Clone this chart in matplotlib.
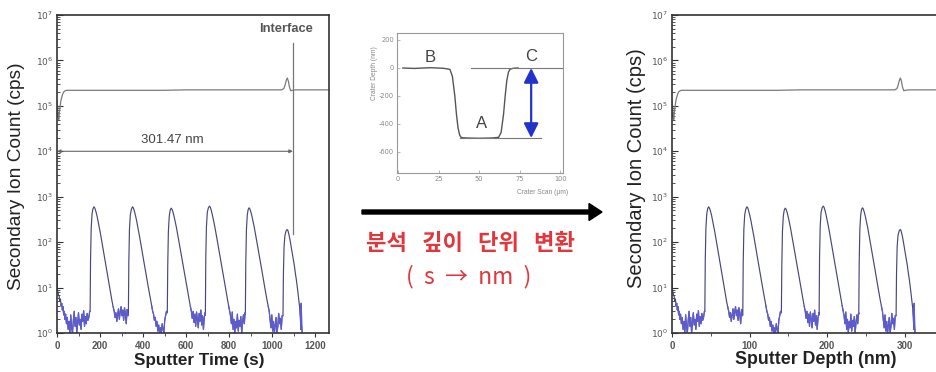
import numpy as np
import matplotlib
matplotlib.use("Agg")
import matplotlib.pyplot as plt
from matplotlib.patches import FancyArrow
from matplotlib.ticker import LogLocator, MultipleLocator, NullFormatter, FixedLocator, FixedFormatter

plt.rcParams["axes.unicode_minus"] = False

# ---------------- data ----------------
interface_time_s = 1097
interface_depth_nm = 301.47

# matrix (upper) signal, sputter time in s
upper_time = [0, 1.5, 3, 4.5, 6, 8, 10, 13, 16, 19, 23, 27, 32, 38, 45, 55, 100, 200, 300, 400, 500,
              600, 700, 800, 900, 1000, 1045, 1055, 1061, 1066, 1071, 1076, 1081, 1087, 1094, 1110,
              1200, 1265]
upper_counts = [1.3e5, 8.0e4, 1.0e5, 5.5e4, 7.0e4, 5.0e4, 6.5e4, 8.5e4, 1.1e5, 1.35e5, 1.6e5, 1.85e5,
                2.05e5, 2.15e5, 2.2e5, 2.2e5, 2.2e5, 2.2e5, 2.2e5, 2.2e5, 2.2e5, 2.25e5, 2.25e5,
                2.25e5, 2.25e5, 2.25e5, 2.25e5, 2.4e5, 2.9e5, 3.6e5, 4.1e5, 3.5e5, 2.6e5, 2.15e5,
                2.2e5, 2.25e5, 2.25e5, 2.25e5]

# delta-layer (lower) signal, split per layer
start_time = [0, 2, 4, 7, 10, 13, 16, 19, 22, 25, 28, 31, 34, 37, 40, 44, 48, 52, 56, 60, 64, 68,
              72, 76, 80, 84, 88, 92, 96, 100, 104, 108, 112, 116, 120, 124, 128, 132, 136, 140,
              144, 148, 152]
start_counts = [30, 9, 8, 7, 6.5, 5, 5.5, 4, 4.5, 3.2, 3.8, 2.5, 3, 2, 2.6, 1.6, 2.2, 1.2, 1.8, 1,
                2.5, 1.3, 1, 1.9, 3, 1.4, 2.2, 1, 1.7, 2.8, 1.5, 2, 1.2, 2.6, 1.8, 3.1, 1.4, 2.3,
                1.6, 2.7, 1.9, 2.2, 3]

layer1_time = [154, 156, 159, 163, 167, 172, 176, 181, 186, 191, 196, 201, 206, 211, 216, 221, 226,
               231, 236, 241, 246, 251, 256, 261, 266, 270, 274, 278, 282, 286, 290, 294, 298, 302,
               306, 310, 314, 318, 322, 326, 330]
layer1_counts = [3, 40, 200, 420, 540, 600, 560, 470, 380, 290, 220, 165, 120, 88, 64, 46, 34, 25,
                 18, 13, 9.5, 7, 5, 3.8, 3, 2.2, 2.8, 1.8, 2.5, 3.4, 2, 2.9, 3.8, 2.4, 3.2, 1.9,
                 3.6, 2.6, 1.6, 3.3, 2.4]

layer2_time = [332, 334, 337, 341, 346, 351, 355, 360, 365, 370, 375, 380, 385, 390, 395, 400, 405,
               410, 415, 420, 425, 430, 435, 440, 445, 449, 453, 457, 461, 465, 469, 473, 477, 481,
               485, 489, 493, 497, 501, 505, 509]
layer2_counts = [2.5, 35, 190, 400, 530, 600, 570, 480, 385, 300, 225, 170, 125, 90, 66, 48, 35, 26,
                 19, 14, 10, 7.5, 5.5, 4, 3, 2.6, 1.9, 2.2, 1.4, 1.8, 1.1, 1.5, 1, 1.3, 1, 1.6,
                 1.2, 1, 1.9, 2.4, 3]

layer3_time = [513, 515, 518, 522, 526, 531, 535, 540, 545, 550, 555, 560, 565, 570, 575, 580, 585,
               590, 595, 600, 605, 610, 615, 620, 625, 629, 633, 637, 641, 645, 649, 653, 657, 661,
               665, 669, 673, 677, 681, 685, 689]
layer3_counts = [2.8, 30, 170, 370, 500, 560, 530, 450, 360, 280, 215, 160, 118, 86, 63, 46, 34, 25,
                 18, 13, 9.5, 7, 5.2, 3.9, 3, 2.1, 3, 1.7, 2.6, 1.4, 2.9, 2, 1.3, 2.7, 1.8, 3.2,
                 1.5, 2.4, 1.2, 2.2, 2.8]

layer4_time = [690, 692, 695, 699, 704, 709, 713, 718, 723, 728, 733, 738, 743, 748, 753, 758, 763,
               768, 773, 778, 783, 788, 793, 798, 803, 807, 811, 815, 819, 823, 827, 831, 835, 839,
               843, 847, 851, 855, 859, 863, 867, 871, 875]
layer4_counts = [2.5, 45, 220, 450, 570, 620, 590, 490, 390, 300, 230, 172, 126, 92, 67, 49, 36, 26,
                 19, 14, 10, 7.4, 5.4, 4, 3, 2.4, 1.6, 2.9, 1.2, 2, 1, 1.8, 1.3, 2.6, 1.1, 1.9,
                 1.4, 2.3, 1, 1.7, 2.5, 1.6, 2.8]

layer5_time = [876, 878, 881, 885, 889, 893, 897, 902, 907, 912, 917, 922, 927, 932, 937, 942, 947,
               952, 957, 962, 967, 972, 977, 982, 987, 991, 995, 999, 1003, 1007, 1011, 1015, 1019,
               1023, 1027, 1031, 1035, 1039, 1043, 1047]
layer5_counts = [2.6, 35, 190, 400, 520, 570, 540, 455, 365, 285, 218, 162, 120, 87, 64, 47, 34, 25,
                 18, 13, 9.6, 7, 5.2, 3.9, 3, 2, 1.3, 2.5, 1.1, 1.8, 1, 1.5, 2.2, 1, 1.4, 2.7, 1.6,
                 2.1, 1.2, 2.4]

layer6_time = [1051, 1053, 1056, 1060, 1065, 1070, 1074, 1079, 1084, 1089, 1094, 1099, 1104, 1109,
               1114, 1119, 1124, 1129, 1132, 1134, 1136, 1138, 1140]
layer6_counts = [2.4, 20, 80, 140, 175, 190, 180, 145, 110, 80, 58, 42, 30, 20, 14, 9, 5.5, 3.5,
                 2.2, 1.2, 4.5, 1.5, 1]

# crater profile (inset)
crater_scan = [3, 10, 20, 28, 32, 33.5, 35, 36, 37, 38, 39, 42, 50, 58, 62, 63.5, 65, 66, 67, 68, 69,
               71, 74]
crater_depth = [0, -3, 2, -2, -10, -60, -200, -330, -430, -480, -497, -500, -502, -500, -495, -460,
                -330, -200, -90, -30, -8, -2, 0]
crater_yticks = [200, 0, -200, -400, -600]
crater_xticks = [0, 25, 50, 75, 100]

decade_ticks = [0, 1, 2, 3, 4, 5, 6, 7]

# ---------------- figure ----------------
W, H = 936, 372
fig = plt.figure(figsize=(W / 100, H / 100), dpi=100)
fig.patch.set_facecolor("white")

def fx(px):
    return px / W

def fy(py):
    return 1 - py / H

lower_time = np.array(start_time + layer1_time + layer2_time + layer3_time + layer4_time +
                      layer5_time + layer6_time, dtype=float)
lower_counts = np.array(start_counts + layer1_counts + layer2_counts + layer3_counts + layer4_counts +
                        layer5_counts + layer6_counts, dtype=float)
upper_t = np.array(upper_time, dtype=float)
upper_c = np.array(upper_counts, dtype=float)

nm_per_s = interface_depth_nm / interface_time_s

LABEL_FONT = ["Liberation Sans", "DejaVu Sans"]
KR_FONT = ["Noto Sans CJK KR", "DejaVu Sans"]
TICK_COLOR = "#555555"
SPINE_COLOR = "#333333"


def style_profile_axes(ax, xmax, xmajor, xminor):
    ax.set_yscale("log")
    ax.set_ylim(1, 1e7)
    ax.set_xlim(0, xmax)
    ax.yaxis.set_major_locator(FixedLocator([10.0 ** k for k in decade_ticks]))
    ax.yaxis.set_major_formatter(FixedFormatter([r"$10^{%d}$" % k for k in decade_ticks]))
    ax.yaxis.set_minor_locator(LogLocator(base=10, subs=np.arange(2, 10)))
    ax.yaxis.set_minor_formatter(NullFormatter())
    ax.xaxis.set_major_locator(MultipleLocator(xmajor))
    ax.xaxis.set_minor_locator(MultipleLocator(xminor))
    ax.tick_params(axis="y", which="major", direction="in", length=4, width=0.8,
                   labelsize=6.5, labelcolor=TICK_COLOR, colors=SPINE_COLOR, pad=3)
    ax.tick_params(axis="y", which="minor", direction="in", length=2, width=0.6, colors=SPINE_COLOR)
    ax.tick_params(axis="x", which="major", direction="out", length=3, width=0.8,
                   labelsize=7, labelcolor=TICK_COLOR, colors=SPINE_COLOR, pad=2.5)
    ax.tick_params(axis="x", which="minor", direction="out", length=2, width=0.6, colors=SPINE_COLOR)
    for lab in ax.get_xticklabels():
        lab.set_fontweight("bold")
        lab.set_family(LABEL_FONT)
    for sp in ax.spines.values():
        sp.set_color(SPINE_COLOR)
        sp.set_linewidth(1.2)


def draw_series(ax, x_scale):
    ax.plot(upper_t * x_scale, upper_c, color="#7a7a7a", lw=0.9)
    ax.plot(lower_time * x_scale, lower_counts, color="#48487a", lw=0.85)
    low_noise = np.where(lower_counts < 4.6, lower_counts, np.nan)
    ax.plot(lower_time * x_scale, low_noise, color="#5c5cd0", lw=0.85)


# ---- left panel: sputter time ----
axL = fig.add_axes([fx(57), fy(333), fx(329) - fx(57), fy(15) - fy(333)])
draw_series(axL, 1.0)
style_profile_axes(axL, 1265, 200, 100)
axL.set_xlabel("Sputter Time (s)", fontsize=12.3, fontweight="bold", family=LABEL_FONT,
               color="#222222", va="center")
axL.xaxis.set_label_coords((199 - 57) / 272, (333 - 360) / 318)
axL.set_ylabel("Secondary Ion Count (cps)", fontsize=13.8, family=LABEL_FONT, color="#222222",
               va="center")
axL.yaxis.set_label_coords((17 - 57) / 272, 0.494)

axL.plot([interface_time_s, interface_time_s], [150, 2.4e6], color="#777777", lw=0.9)
axL.annotate("", xy=(0, 1e4), xytext=(interface_time_s, 1e4),
             arrowprops=dict(arrowstyle="<|-|>", color="#666666", lw=0.8, mutation_scale=5,
                             shrinkA=0, shrinkB=0))
axL.text(537, 1.8e4, "%.2f nm" % interface_depth_nm, ha="center", va="center", fontsize=9.5,
         color="#444444", family=LABEL_FONT)
axL.text(1066, 5e6, "Interface", ha="center", va="center", fontsize=9.3, fontweight="bold",
         color="#555555", family=LABEL_FONT)

# ---- right panel: sputter depth ----
axR = fig.add_axes([fx(672), fy(333), 270 / W, fy(15) - fy(333)])
draw_series(axR, nm_per_s)
style_profile_axes(axR, 348, 100, 50)
axR.set_xlabel("Sputter Depth (nm)", fontsize=12.8, fontweight="bold", family=LABEL_FONT,
               color="#222222", va="center")
axR.xaxis.set_label_coords((816 - 672) / 270, (333 - 360) / 318)
axR.set_ylabel("Secondary Ion Count (cps)", fontsize=14.5, family=LABEL_FONT, color="#222222",
               va="center")
axR.yaxis.set_label_coords((637 - 672) / 270, 0.52)

# ---- inset: crater profile ----
axI = fig.add_axes([fx(397), fy(173), (563 - 397) / W, fy(33) - fy(173)])
axI.plot(crater_scan, crater_depth, color="#555555", lw=1.0)
axI.plot([45, 101], [0, 0], color="#777777", lw=0.8)
axI.plot([38, 88], [-500, -500], color="#777777", lw=0.8)
axI.annotate("", xy=(82, -500), xytext=(82, 0),
             arrowprops=dict(arrowstyle="<|-|>", color="#2233cc", lw=1.6, mutation_scale=22,
                             shrinkA=0, shrinkB=0))
axI.text(20, 75, "B", fontsize=12, color="#444444", ha="center", va="center", family=LABEL_FONT)
axI.text(51.5, -400, "A", fontsize=12, color="#444444", ha="center", va="center", family=LABEL_FONT)
axI.text(82, 82, "C", fontsize=12, color="#444444", ha="center", va="center", family=LABEL_FONT)
axI.set_xlim(-0.6, 101.6)
axI.set_ylim(-750, 250)
axI.set_yticks(crater_yticks)
axI.set_xticks(crater_xticks)
axI.tick_params(direction="in", length=2, width=0.5, labelsize=4.8, labelcolor="#888888",
                colors="#999999", pad=2)
for sp in axI.spines.values():
    sp.set_color("#999999")
    sp.set_linewidth(0.8)
fig.text(fx(543), fy(193), "Crater Scan (μm)", fontsize=4.8, color="#888888", ha="center",
         va="center", family=LABEL_FONT)
fig.text(fx(374), fy(73), "Crater Depth (nm)", fontsize=4.8, color="#888888", ha="center",
         va="center", rotation=90, family=LABEL_FONT)

# ---- conversion arrow and caption ----
arrow = FancyArrow(3.62, (H - 212) / 100, 2.40, 0, width=0.04, head_width=0.17, head_length=0.13,
                   length_includes_head=True, color="black", transform=fig.dpi_scale_trans)
fig.add_artist(arrow)
fig.text(fx(471), fy(243), "분석   깊이   단위   변환", fontsize=16, fontweight="bold",
         color="#e0363c", ha="center", va="center", family=KR_FONT)
fig.text(fx(469), fy(277), "(  s  →  nm  )", fontsize=16.5, color="#e0363c",
         ha="center", va="center", family=KR_FONT)

fig.savefig("out.png", dpi=100, facecolor="white")
